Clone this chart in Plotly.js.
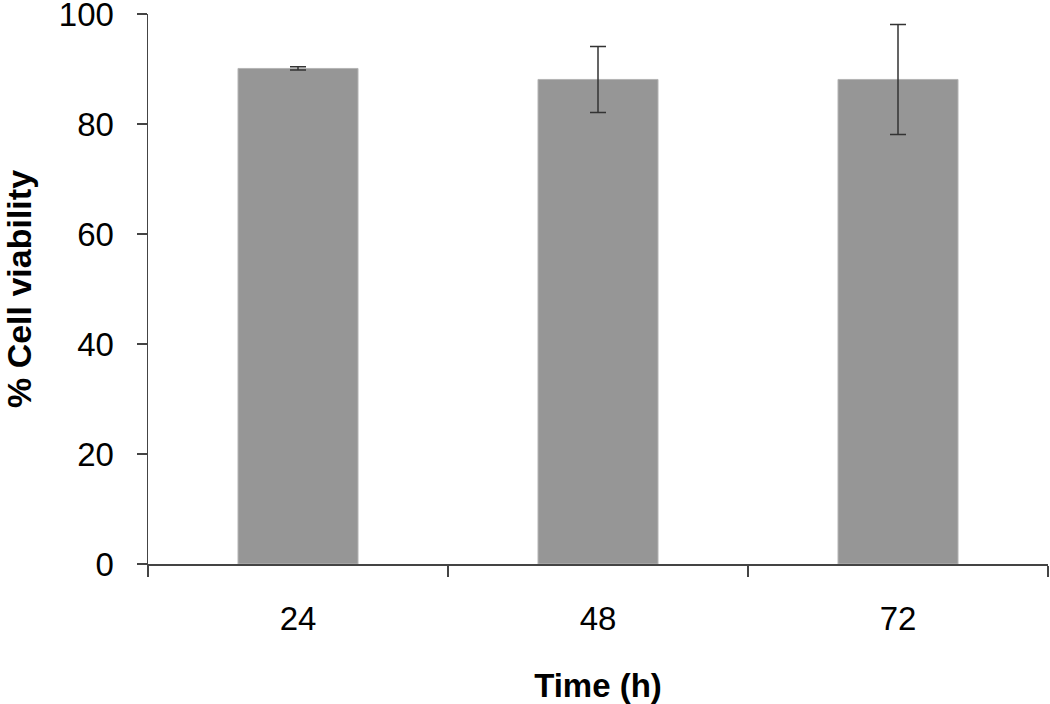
<!DOCTYPE html>
<html>
<head>
<meta charset="utf-8">
<script src="https://cdn.plot.ly/plotly-3.0.1.min.js"></script>
<style>html,body{margin:0;padding:0;background:#fff;}#chart{width:1050px;height:704px;}</style>
</head>
<body>
<div id="chart"></div>
<script>
const timepoints = ["24", "48", "72"];
const viability = [90.1, 88.1, 88.1];
const viabilityErr = [0.3, 6.0, 10.0];

const trace = {
  type: "bar",
  x: timepoints,
  y: viability,
  marker: {color: "#969696", line: {color: "#b4b4b4", width: 1}},
  error_y: {type: "data", array: viabilityErr, visible: true, color: "#333333", thickness: 1.5, width: 8},
  hoverinfo: "x+y"
};

const layout = {
  width: 1050, height: 704,
  margin: {l: 148, r: 2, t: 14, b: 140},
  paper_bgcolor: "#ffffff", plot_bgcolor: "#ffffff",
  bargap: 0.6,
  showlegend: false,
  font: {family: "Liberation Sans, Arial, sans-serif", color: "#000000"},
  xaxis: {
    type: "category",
    range: [-0.5, 2.5],
    showline: true, linecolor: "#444444", linewidth: 1.5,
    ticks: "outside", tickson: "boundaries", ticklen: 11, tickcolor: "#444444", tickwidth: 1.5,
    tickfont: {size: 33, color: "#000"},
    ticklabelstandoff: 25,
    ticklabeloverflow: "allow",
    showgrid: false, zeroline: false,
    title: {text: "<b>Time (h)</b>", font: {size: 33, color: "#000"}, standoff: 39}
  },
  yaxis: {
    range: [0, 100],
    tickvals: [0, 20, 40, 60, 80, 100],
    showline: true, linecolor: "#444444", linewidth: 1.5,
    ticks: "outside", ticklen: 10, tickcolor: "#444444", tickwidth: 1.5,
    tickfont: {size: 33, color: "#000"},
    ticklabelstandoff: 16,
    ticklabeloverflow: "allow",
    showgrid: false, zeroline: false,
    title: {text: "<b>% Cell viability</b>", font: {size: 34, color: "#000"}, standoff: 22}
  }
};

Plotly.newPlot("chart", [trace], layout, {displayModeBar: false, staticPlot: true});
</script>
</body>
</html>
